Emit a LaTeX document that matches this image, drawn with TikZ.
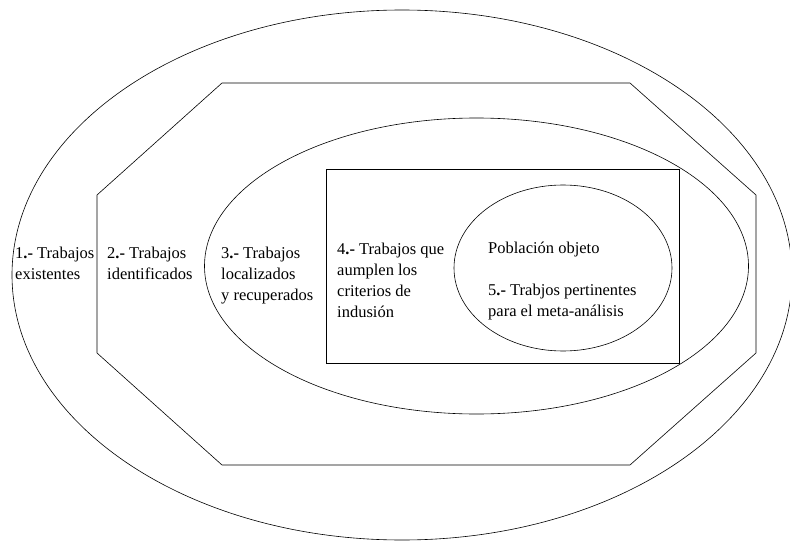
\documentclass[tikz,border=0pt]{standalone}
\usepackage{fontspec}
\setmainfont{Liberation Serif}
\begin{document}
\begin{tikzpicture}[x=1pt,y=-1pt] % Conjuntos anidados
\tikzstyle{myline} = [draw, line width=0.6pt] % contour style
\tikzstyle{mytext} = [anchor=base west, align=left, inner sep=0pt, font=\fontsize{16.5}{21}\selectfont] % label style (base = last line)
\useasboundingbox (0,0) rectangle (790,543);
%
\draw[myline] (402,275) ellipse [x radius=390pt, y radius=265pt]; % 1
\draw[myline] (222,83) -- (630,83) -- (756,195) -- (756,353) -- (630,465)
	-- (222,465) -- (97,353) -- (97,195) -- cycle; % 2
\draw[myline] (476.5,266) ellipse [x radius=272pt, y radius=148pt]; % 3
\draw[myline] (326,169) rectangle (679,363); % 4
\draw[myline] (563,268) ellipse [x radius=109pt, y radius=83pt]; % 5
%
\node[mytext] (T1) at (15,279) {1\textbf{.-} Trabajos\\existentes};
\node[mytext] (T2) at (107,279) {2\textbf{.-} Trabajos\\identificados};
\node[mytext] (T3) at (221,300) {3\textbf{.-} Trabajos\\localizados\\y recuperados};
\node[mytext] (T4) at (337,317) {4\textbf{.-} Trabajos que\\aumplen los\\criterios de\\indusión};
\node[mytext] (T5) at (488,316) {Población objeto\\[21pt]5\textbf{.-} Trabjos pertinentes\\para el meta-análisis};
\end{tikzpicture}
\end{document}
